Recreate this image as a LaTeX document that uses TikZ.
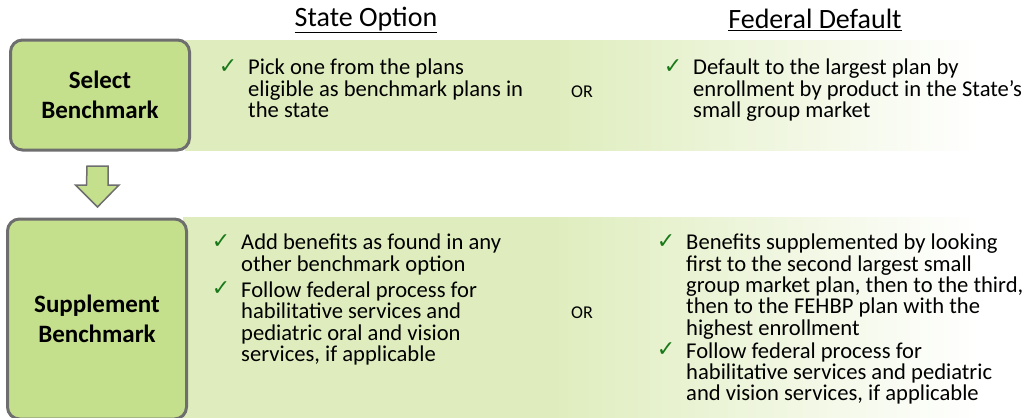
\documentclass[tikz,border=0pt]{standalone}
\usepackage{fontspec}
\setmainfont{Carlito}
\newfontfamily\symfont{DejaVu Sans}
\usetikzlibrary{positioning}

\definecolor{boxgreen}{RGB}{197,224,141}
\definecolor{bandgreen}{RGB}{223,237,190}
\definecolor{edgegray}{RGB}{110,110,110}
\definecolor{tickgreen}{RGB}{25,120,25}
\pgfdeclarehorizontalshading{bandfade}{100bp}{color(0bp)=(bandgreen); color(25bp)=(bandgreen); color(47bp)=(bandgreen); color(72bp)=(white); color(100bp)=(white)}
\newcommand{\tick}{\llap{\raisebox{1.5pt}{\symfont\color{tickgreen}\fontsize{22}{22}\selectfont ✓}\hspace{11pt}}}

\begin{document}
\begin{tikzpicture}[x=1pt, y=-1pt,
    stepbox/.style={draw=edgegray, line width=3pt, fill=boxgreen, rounded corners=12pt,
      minimum width=179pt, align=center, inner sep=0pt,
      font=\fontsize{25}{30}\selectfont\bfseries},
    header/.style={font=\fontsize{28}{34}\selectfont},
    item/.style={anchor=north west, align=left, inner sep=0pt,
      font=\fontsize{22.6}{21.3}\selectfont},
    ortext/.style={font=\fontsize{18}{20}\selectfont},
    flowarrow/.style={draw=edgegray, line width=1.5pt, fill=boxgreen, line join=miter}]
  \useasboundingbox (0,0) rectangle (1029,418);

  % bands behind the boxes
  \shade[shading=bandfade] (185,40) rectangle (1029,150);
  \shade[shading=bandfade] (183,217) rectangle (1029,418);

  % column headers
  \node[header] (hstate) at (366,20) {\underline{State Option}};
  \node[header] (hfed) at (815,20) {\underline{Federal Default}};

  % steps
  \node[stepbox, minimum height=110pt] (select) at (100,95) {Select\\Benchmark};
  \node[stepbox, minimum height=200pt] (supp) at (97,319) {Supplement\\Benchmark};
  \coordinate (ftop) at (97.5,166);
  \coordinate (ftip) at (97.5,207);
  \draw[flowarrow] (ftop) ++(-10.5,0) -- ++(21,0) -- ++(0,19) -- ++(11,0) -- (ftip)
    -- ++(-22,-22) -- ++(11,0) -- cycle;

  % select benchmark
  \node[item] (sel1) at (248,59) {\tick Pick one from the plans\\eligible as benchmark plans in\\the state};
  \node[ortext] (or1) at (582,92) {OR};
  \node[item] (sel2) at (693,59) {\tick Default to the largest plan by\\enrollment by product in the State’s\\small group market};

  % supplement benchmark
  \node[item] (sup1) at (241,234) {\tick Add benefits as found in any\\other benchmark option};
  \node[item, below=6.5pt of sup1.south west, anchor=north west] (sup2) {\tick Follow federal process for\\habilitative services and\\pediatric oral and vision\\services, if applicable};
  \node[ortext] (or2) at (582,313) {OR};
  \node[item] (sup3) at (686,234) {\tick Benefits supplemented by looking\\first to the second largest small\\group market plan, then to the third,\\then to the FEHBP plan with the\\highest enrollment};
  \node[item, below=3pt of sup3.south west, anchor=north west] (sup4) {\tick Follow federal process for\\habilitative services and pediatric\\and vision services, if applicable};
\end{tikzpicture}
\end{document}
